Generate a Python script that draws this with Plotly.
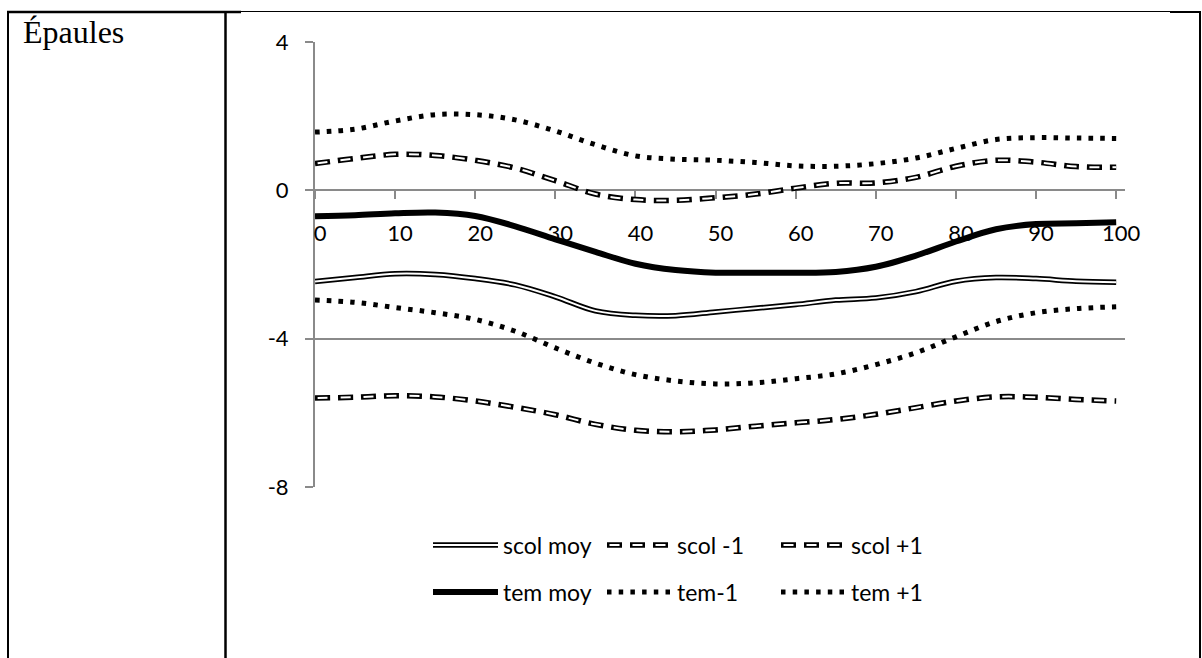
import plotly.graph_objects as go

W, H = 1202, 658

# ---------------- data ----------------
x_pct = [0, 5, 10, 15, 20, 25, 30, 35, 40, 45, 50, 55, 60, 65, 70, 75, 80, 85, 90, 95, 100]

scol_moy = [-2.46, -2.35, -2.25, -2.27, -2.38, -2.55, -2.87, -3.25, -3.37, -3.38, -3.28,
            -3.18, -3.08, -2.96, -2.90, -2.73, -2.45, -2.35, -2.38, -2.45, -2.48]
scol_m1 = [-5.60, -5.58, -5.54, -5.57, -5.68, -5.85, -6.05, -6.31, -6.47, -6.51, -6.46,
           -6.36, -6.27, -6.18, -6.04, -5.86, -5.68, -5.57, -5.58, -5.64, -5.68]
scol_p1 = [0.72, 0.86, 0.97, 0.94, 0.81, 0.60, 0.26, -0.10, -0.25, -0.27, -0.20,
           -0.10, 0.06, 0.19, 0.20, 0.35, 0.65, 0.81, 0.76, 0.64, 0.62]
tem_moy = [-0.70, -0.67, -0.62, -0.60, -0.69, -0.97, -1.32, -1.66, -1.98, -2.15, -2.22,
           -2.22, -2.22, -2.20, -2.06, -1.76, -1.38, -1.05, -0.91, -0.89, -0.86]
tem_m1 = [-2.96, -3.02, -3.16, -3.30, -3.48, -3.80, -4.25, -4.66, -4.97, -5.14, -5.22,
          -5.19, -5.08, -4.95, -4.70, -4.38, -3.95, -3.54, -3.30, -3.19, -3.14]
tem_p1 = [1.57, 1.65, 1.87, 2.04, 2.04, 1.90, 1.60, 1.23, 0.93, 0.84, 0.81,
          0.75, 0.66, 0.65, 0.72, 0.87, 1.13, 1.37, 1.42, 1.41, 1.40]

x_ticks = [0, 10, 20, 30, 40, 50, 60, 70, 80, 90, 100]
y_ticks = [4, 0, -4, -8]
section_label = "Épaules"

# ---------------- styles ----------------
AX = "#8a8a8a"
FONT = "Lato"
DASH_OUT = "15px,8px"
DASH_IN = "0px,2.5px,10px,10.5px"
DOT = "4.5px,7.2px"

fig = go.Figure()

def sc(y, name, color, width, dash, legend, showlegend=True):
    fig.add_trace(go.Scatter(
        x=x_pct, y=y, name=name, mode="lines",
        line=dict(color=color, width=width, dash=dash, shape="spline", smoothing=1.0),
        legend=legend, showlegend=showlegend, hoverinfo="skip"))

# scol series: black outline + white core
sc(scol_moy, "scol moy", "black", 5.5, "solid", "legend")
sc(scol_m1, "scol -1", "black", 5.5, DASH_OUT, "legend")
sc(scol_p1, "scol +1", "black", 5.5, DASH_OUT, "legend")
sc(scol_moy, " ", "white", 2, "solid", "legend3")
sc(scol_m1, " ", "white", 2, DASH_IN, "legend3")
sc(scol_p1, " ", "white", 2, DASH_IN, "legend3")
# tem series
sc(tem_moy, "tem moy", "black", 6, "solid", "legend2")
sc(tem_m1, "tem-1", "black", 5, DOT, "legend2")
sc(tem_p1, "tem +1", "black", 5, DOT, "legend2")

x0p, x1p = 315, 1125
ytop, ybot = 42, 487
ydom = [1 - ybot / H, 1 - ytop / H]
zero_frac = ydom[0] + (0 - (-8)) / 12 * (ydom[1] - ydom[0])

leg_common = dict(orientation="h", xanchor="left", yanchor="middle",
                  bgcolor="rgba(0,0,0,0)", borderwidth=0,
                  itemwidth=65, entrywidth=94, entrywidthmode="pixels",
                  font=dict(family=FONT, size=23, color="black"),
                  traceorder="normal", valign="middle")

fig.update_layout(
    width=W, height=H, autosize=False,
    margin=dict(l=0, r=0, t=0, b=0, pad=0, autoexpand=False),
    paper_bgcolor="white", plot_bgcolor="white",
    font=dict(family=FONT, size=22, color="black"),
    xaxis=dict(domain=[x0p / W, x1p / W], range=[0, 101.1],
               anchor="free", position=zero_frac, automargin=False,
               tickvals=x_ticks, ticktext=[str(v) for v in x_ticks],
               showline=True, linecolor=AX, linewidth=2,
               ticks="outside", ticklen=8, tickwidth=1.5, tickcolor=AX,
               showgrid=False, zeroline=False, layer="below traces",
               ticklabelstandoff=15, ticklabelshift=5,
               tickfont=dict(family=FONT, size=22, color="black")),
    yaxis=dict(domain=ydom, range=[-8, 4], automargin=False,
               tickvals=y_ticks, ticktext=[str(v) for v in y_ticks],
               showline=True, linecolor=AX, linewidth=2,
               ticks="outside", ticklen=8, tickwidth=1.5, tickcolor=AX,
               showgrid=True, gridcolor=AX, gridwidth=1.5,
               zeroline=False, layer="below traces",
               ticklabelstandoff=12,
               tickfont=dict(family=FONT, size=22, color="black")),
    legend=dict(x=428 / W, y=1 - 545 / H, **leg_common),
    legend3=dict(x=428 / W, y=1 - 545 / H, **leg_common),
    legend2=dict(x=428 / W, y=1 - 592 / H, **leg_common),
    showlegend=True,
)

def hl(xa, xb, y, w):
    fig.add_shape(type="line", xref="paper", yref="paper",
                  x0=xa / W, x1=xb / W, y0=1 - y / H, y1=1 - y / H,
                  line=dict(color="black", width=w))

def vl(xv, ya, yb, w):
    fig.add_shape(type="line", xref="paper", yref="paper",
                  x0=xv / W, x1=xv / W, y0=1 - ya / H, y1=1 - yb / H,
                  line=dict(color="black", width=w))

hl(7, 241, 12, 2.5)
hl(241, 1170, 11.5, 1)
hl(1170, 1201, 12, 2)
vl(8, 11, 658, 2)
vl(225.5, 11, 658, 2.5)
vl(1200, 11, 658, 2)

fig.add_annotation(text=section_label, xref="paper", yref="paper",
                   x=21 / W, y=1 - 12 / H, xanchor="left", yanchor="top",
                   showarrow=False,
                   font=dict(family="Liberation Serif", size=32, color="black"))

fig.write_html("out.html", config={"responsive": False})
